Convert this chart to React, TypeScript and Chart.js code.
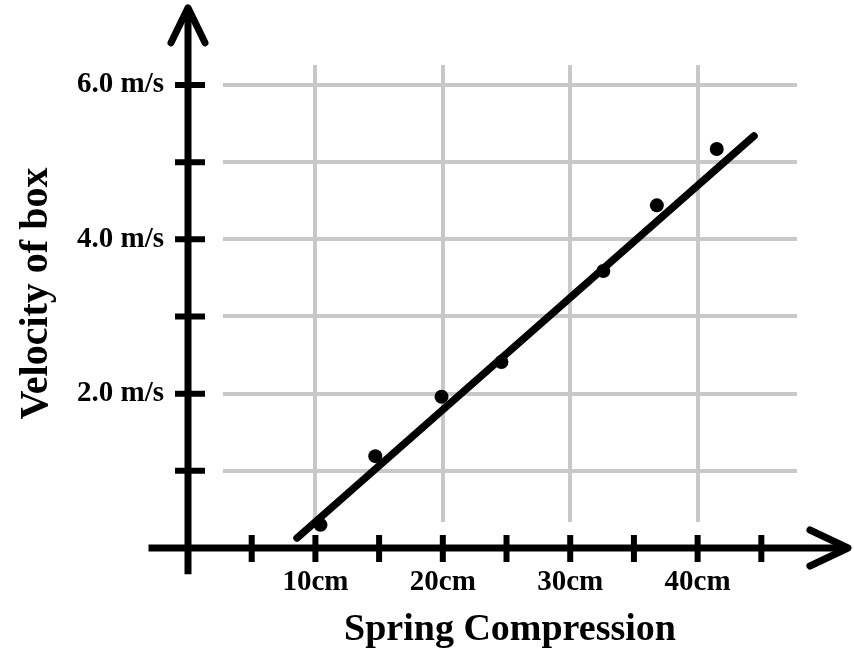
import React, { useEffect, useRef } from 'react';
import { Chart, registerables } from 'chart.js';

Chart.register(...registerables);

// Measured data (spring compression in cm, velocity in m/s)
const compressionCm = [10.4, 14.7, 19.9, 24.6, 32.6, 36.8, 41.5];
const velocity = [0.3, 1.19, 1.96, 2.41, 3.59, 4.44, 5.17];

// Best-fit line end points
const fitX = [8.56, 44.43];
const fitY = [0.13, 5.34];

// Axis tick marks (on the black axes) and labelled ticks
const xTickMarks = [5, 10, 15, 20, 25, 30, 35, 40, 45];
const yTickMarks = [1, 2, 3, 4, 5, 6];
const xLabelStep = 10;
const yGridStep = 1;

// Axis extents in data units (black arrow axes)
const xAxisRange = [-3.1, 51.8];
const yAxisRange = [-0.34, 7.0];

// Visible grid window
const xWindow = [2.747, 47.8];
const yWindow = [0.337, 6.259];

const xTitle = 'Spring Compression';
const yTitle = 'Velocity of box';

const FONT = "'Liberation Serif', 'Times New Roman', serif";

const arrowAxes = {
  id: 'arrowAxes',
  afterDatasetsDraw(chart: any) {
    const { ctx } = chart;
    const xs = chart.scales.x;
    const ys = chart.scales.y;
    const x0 = xs.getPixelForValue(0);
    const y0 = ys.getPixelForValue(0);
    const xStart = xs.getPixelForValue(xAxisRange[0]);
    const xEnd = xs.getPixelForValue(xAxisRange[1]);
    const yBottom = ys.getPixelForValue(yAxisRange[0]);
    const yTop = ys.getPixelForValue(yAxisRange[1]);
    ctx.save();
    ctx.strokeStyle = '#000';
    ctx.lineWidth = 7;
    ctx.lineCap = 'butt';
    ctx.beginPath();
    ctx.moveTo(xStart, y0);
    ctx.lineTo(xEnd - 3, y0);
    ctx.stroke();
    ctx.beginPath();
    ctx.moveTo(x0, yBottom);
    ctx.lineTo(x0, yTop + 3);
    ctx.stroke();

    // arrow heads
    ctx.lineCap = 'round';
    ctx.lineJoin = 'round';
    ctx.beginPath();
    ctx.moveTo(xEnd - 38, y0 - 18);
    ctx.lineTo(xEnd, y0);
    ctx.lineTo(xEnd - 38, y0 + 18);
    ctx.stroke();
    ctx.beginPath();
    ctx.moveTo(x0 - 17, yTop + 35);
    ctx.lineTo(x0, yTop);
    ctx.lineTo(x0 + 17, yTop + 35);
    ctx.stroke();

    // tick marks
    ctx.lineCap = 'butt';
    ctx.lineWidth = 6;
    ctx.beginPath();
    xTickMarks.forEach((v) => {
      const px = xs.getPixelForValue(v);
      ctx.moveTo(px, y0 - 13);
      ctx.lineTo(px, y0 + 14);
    });
    yTickMarks.forEach((v) => {
      const py = ys.getPixelForValue(v);
      ctx.moveTo(x0 - 13, py);
      ctx.lineTo(x0 + 17, py);
    });
    ctx.stroke();
    ctx.restore();
  },
};

export default function App() {
  const canvasRef = useRef<HTMLCanvasElement | null>(null);

  useEffect(() => {
    if (!canvasRef.current) return;
    const chart = new Chart(canvasRef.current, {
      type: 'scatter',
      data: {
        datasets: [
          {
            type: 'line',
            data: fitX.map((x, i) => ({ x, y: fitY[i] })),
            borderColor: '#000',
            borderWidth: 7.5,
            borderCapStyle: 'round',
            pointRadius: 0,
            fill: false,
            clip: false,
          } as any,
          {
            data: compressionCm.map((x, i) => ({ x, y: velocity[i] })),
            backgroundColor: '#000',
            borderColor: '#000',
            pointRadius: 7,
            pointBorderWidth: 0,
            clip: false,
          } as any,
        ],
      },
      options: {
        responsive: false,
        animation: false,
        layout: { padding: { left: 0, right: 57, top: 65, bottom: 0 } },
        plugins: {
          legend: { display: false },
          tooltip: { enabled: false },
        },
        scales: {
          x: {
            type: 'linear',
            min: xWindow[0],
            max: xWindow[1],
            afterFit: (s: any) => {
              s.height = 126;
              s.paddingLeft = 0;
              s.paddingRight = 0;
            },
            border: { display: false },
            grid: { color: '#c8c8c8', lineWidth: 4, drawTicks: false },
            ticks: {
              stepSize: xLabelStep,
              includeBounds: false,
              autoSkip: false,
              maxRotation: 0,
              padding: 43,
              color: '#000',
              font: { family: FONT, size: 29, weight: 'bold' },
              callback: (v: any) => `${v}cm`,
            },
            title: {
              display: true,
              text: xTitle,
              color: '#000',
              font: { family: FONT, size: 38, weight: 'bold', lineHeight: 1 },
              padding: { top: 0, bottom: -1 },
            },
          },
          y: {
            type: 'linear',
            min: yWindow[0],
            max: yWindow[1],
            afterFit: (s: any) => {
              s.width = 223;
              s.paddingTop = 0;
              s.paddingBottom = 0;
            },
            border: { display: false },
            grid: { color: '#c8c8c8', lineWidth: 4, drawTicks: false },
            ticks: {
              stepSize: yGridStep,
              includeBounds: false,
              autoSkip: false,
              padding: 59,
              color: '#000',
              font: { family: FONT, size: 29, weight: 'bold' },
              callback: (v: any) => (Number(v) % 2 === 0 ? `${Number(v).toFixed(1)} m/s` : ''),
            },
            title: {
              display: true,
              text: yTitle,
              color: '#000',
              font: { family: FONT, size: 40, weight: 'bold', lineHeight: 1 },
              padding: { top: 17, bottom: 0 },
            },
          },
        },
      } as any,
      plugins: [arrowAxes],
    });
    return () => chart.destroy();
  }, []);

  return (
    <div style={{ position: 'fixed', left: 0, top: 0, width: 854, height: 648, background: '#fff' }}>
      <canvas ref={canvasRef} width={854} height={648} style={{ display: 'block' }} />
    </div>
  );
}
